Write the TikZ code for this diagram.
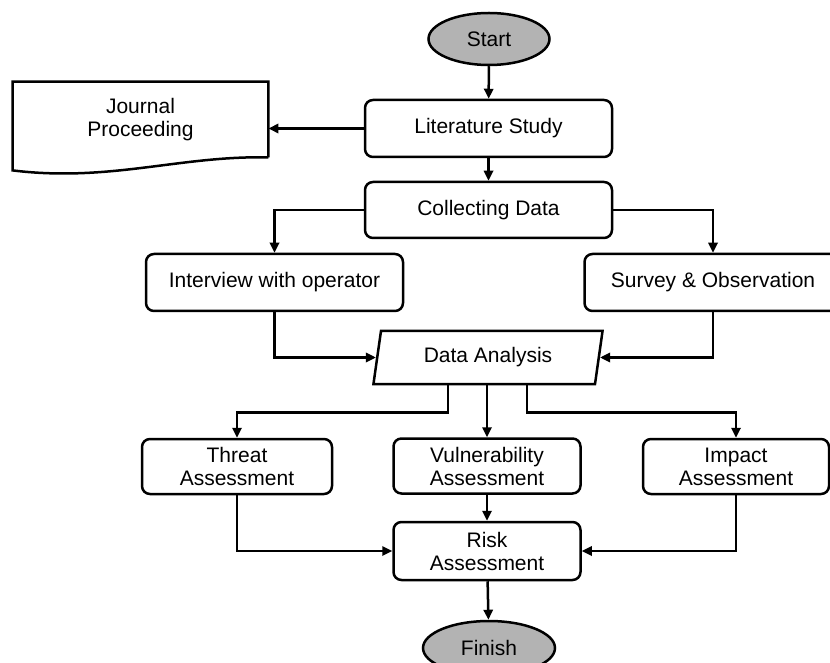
\documentclass[tikz,border=0pt]{standalone}
\usepackage{fontspec}
\setmainfont{Liberation Sans}
\usetikzlibrary{arrows.meta,shapes.geometric,calc}
\definecolor{termgray}{HTML}{B3B3B3}
\begin{document}
\begin{tikzpicture}[x=0.5pt, y=-0.5pt, font=\fontsize{10.5}{11.5}\selectfont,
    procbox/.style={draw, line width=1.25pt, rounded corners=4pt, align=center, inner sep=0pt},
    terminal/.style={draw, ellipse, fill=termgray, line width=1.25pt, inner sep=0pt},
    conn/.style={-{Triangle[length=5pt,width=4.6pt]}, line width=1.25pt}]

\useasboundingbox (0,0) rectangle (830,663);
\clip (0,0) rectangle (830,663);

\node[terminal, minimum width=60.5pt, minimum height=26pt] (start) at (489,39) {Start};
\node[procbox, minimum width=123.5pt, minimum height=28.5pt] (lit) at (488.5,128.5) {Literature Study};
\node[align=center, inner sep=0pt, minimum width=127.5pt, minimum height=37.5pt] (journal) at (140.5,119.5) {Journal\\Proceeding};
\draw[line width=1.25pt] (journal.south east) -- (journal.north east) -- (journal.north west) -- ($(journal.south west)+(0,13)$)
    .. controls +(97,12) and +(-88,-2) .. (journal.south east);
\node[procbox, minimum width=123.5pt, minimum height=28pt] (coll) at (488.5,210) {Collecting Data};
\node[procbox, minimum width=128.5pt, minimum height=28.5pt] (interview) at (274.5,282.5) {Interview with operator};
\node[procbox, minimum width=128.5pt, minimum height=28.5pt] (survey) at (713,282.5) {Survey \& Observation};
\node[draw, line width=1.25pt, trapezium, trapezium left angle=77, trapezium right angle=103, trapezium stretches=true,
    minimum width=115pt, minimum height=26.5pt, inner sep=0pt] (da) at (488,357.5) {Data Analysis};
\node[procbox, minimum width=95pt, minimum height=27.5pt] (threat) at (237,466.5) {Threat\\Assessment};
\node[procbox, minimum width=93.5pt, minimum height=27.5pt] (vuln) at (487,466) {Vulnerability\\Assessment};
\node[procbox, minimum width=93pt, minimum height=27.5pt] (impact) at (736,466.5) {Impact\\Assessment};
\node[procbox, minimum width=93.5pt, minimum height=29pt] (risk) at (487,551) {Risk\\Assessment};
\node[terminal, minimum width=66pt, minimum height=27pt] (finish) at (489,648) {Finish};

\draw[conn] (start) -- (lit);
\draw[conn] (lit.west) -- (lit.west -| journal.east);
\draw[conn] (lit) -- (coll);
\draw[conn] (coll.west) -| (interview);
\draw[conn] (coll.east) -| (survey);
\draw[conn] (interview) |- (da);
\draw[conn] (survey) |- (da);
\draw[conn] ([xshift=-20pt]da.south) -- ++(0,27) -| (threat);
\draw[conn] (da.south -| vuln) -- (vuln);
\draw[conn] ([xshift=19.5pt]da.south) -- ++(0,27) -| (impact);
\draw[conn] (threat) |- (risk);
\draw[conn] (vuln) -- (risk);
\draw[conn] (impact) |- (risk);
\draw[conn] (risk) -- (finish);
\end{tikzpicture}
\end{document}
